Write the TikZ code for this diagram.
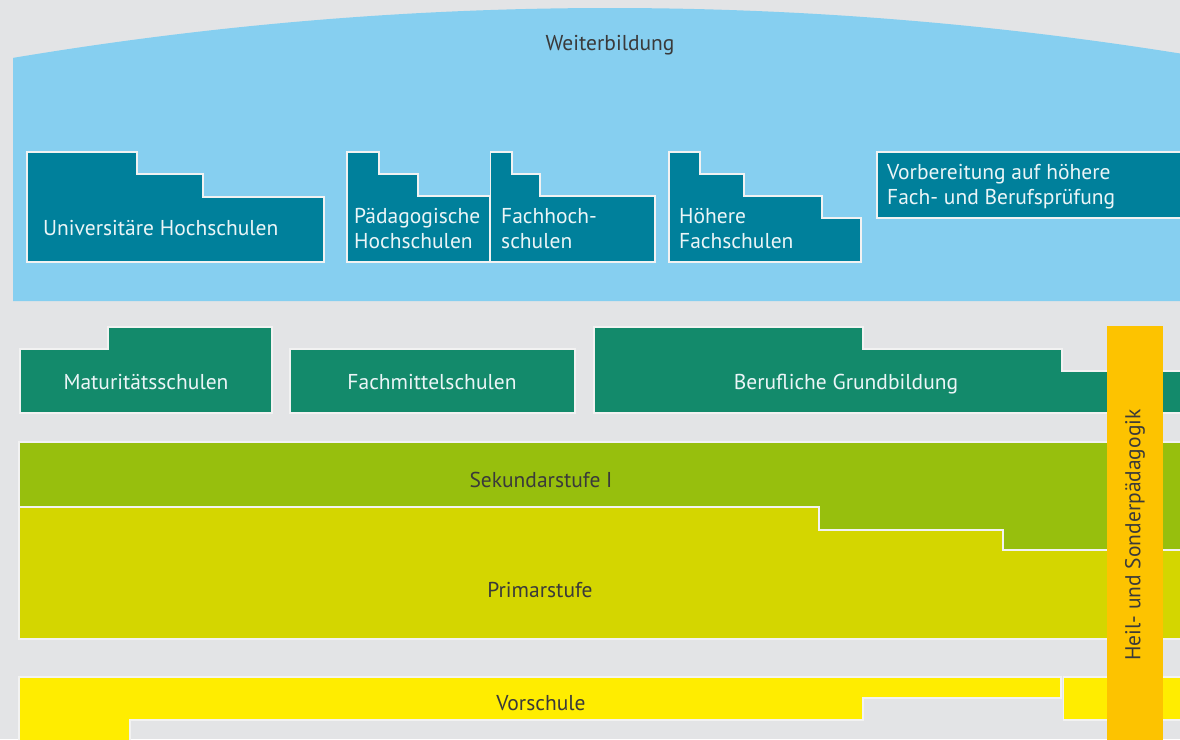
\documentclass[tikz,border=0pt]{standalone}
\usepackage{fontspec}
\setmainfont{PT Sans}
\definecolor{bgcol}{HTML}{E3E4E6}
\definecolor{wbcol}{HTML}{86CFF0}
\definecolor{tealcol}{HTML}{00809B}
\definecolor{greencol}{HTML}{138A6B}
\definecolor{sekcol}{HTML}{97BF0D}
\definecolor{primcol}{HTML}{D4D600}
\definecolor{vorcol}{HTML}{FFED00}
\definecolor{orcol}{HTML}{FDC300}
\definecolor{txtdark}{HTML}{3A3A3A}
\newcommand{\lblfont}{\fontsize{21.5}{25}\selectfont}
\begin{document}
\begin{tikzpicture}[x=1pt,y=-1pt,
  lbl/.style={font=\lblfont, text=white!92!tealcol, inner sep=0},
  dlbl/.style={font=\lblfont, text=txtdark, inner sep=0},
  box/.style={draw=white!90!gray, line width=1.1pt}]
\useasboundingbox (0,0) rectangle (1180,739);
\fill[bgcol] (0,0) rectangle (1180,739);
\clip (0,0) rectangle (1180,739);
% Weiterbildung
\fill[wbcol] (13,301) -- (13,58) -- plot[domain=13:1190,samples=90] (\x,{8+1.4*((\x-610)/100)^2}) -- (1190,301) -- cycle;
\node[dlbl, anchor=base] (wb) at (610,50) {Weiterbildung};
% tertiary
\draw[box, fill=tealcol] (27,262) -- (27,152) -- (137,152) -- (137,174) -- (203,174) -- (203,197) -- (324,197) -- (324,262) -- cycle;
\node[lbl, anchor=base west] (uni) at (43,235) {Universitäre Hochschulen};
\draw[box, fill=tealcol] (347,262) -- (347,152) -- (379,152) -- (379,174) -- (418,174) -- (418,196) -- (489.5,196) -- (489.5,262) -- cycle;
\node[lbl, anchor=base west] (ph1) at (354,223) {Pädagogische};
\node[lbl, anchor=base west] (ph2) at (354,248) {Hochschulen};
\draw[box, fill=tealcol] (490.5,262) -- (490.5,152) -- (512,152) -- (512,174) -- (540,174) -- (540,196) -- (655,196) -- (655,262) -- cycle;
\node[lbl, anchor=base west] (fh1) at (501,223) {Fachhoch-};
\node[lbl, anchor=base west] (fh2) at (501,248) {schulen};
\draw[box, fill=tealcol] (669,262) -- (669,152) -- (700,152) -- (700,174) -- (744,174) -- (744,196) -- (822,196) -- (822,218) -- (861,218) -- (861,262) -- cycle;
\node[lbl, anchor=base west] (hf1) at (679,223) {Höhere};
\node[lbl, anchor=base west] (hf2) at (679,248) {Fachschulen};
\draw[box, fill=tealcol] (877,152) rectangle (1195,218);
\node[lbl, anchor=base west] (vb1) at (887,179) {Vorbereitung auf höhere};
\node[lbl, anchor=base west] (vb2) at (887,204) {Fach- und Berufsprüfung};
% Sekundarstufe II
\draw[box, fill=greencol] (20,413) -- (20,349) -- (108,349) -- (108,327) -- (272,327) -- (272,413) -- cycle;
\node[lbl, anchor=base] (mat) at (146,389) {Maturitätsschulen};
\draw[box, fill=greencol] (290,349) rectangle (575,413);
\node[lbl, anchor=base] (fms) at (432,389) {Fachmittelschulen};
\draw[box, fill=greencol] (594,413) -- (594,327) -- (863,327) -- (863,349) -- (1062,349) -- (1062,371) -- (1195,371) -- (1195,413) -- cycle;
\node[lbl, anchor=base] (bg) at (846,389) {Berufliche Grundbildung};
% Sekundarstufe I and Primarstufe
\draw[box, fill=sekcol] (19,442) rectangle (1195,560);
\node[dlbl, anchor=base] (sek) at (541,487) {Sekundarstufe I};
\draw[box, fill=primcol] (19,507) -- (819,507) -- (819,530) -- (1003,530) -- (1003,550) -- (1195,550) -- (1195,639) -- (19,639) -- cycle;
\node[dlbl, anchor=base] (prim) at (540,597) {Primarstufe};
% Vorschule
\draw[box, fill=vorcol] (19,750) -- (19,677) -- (1061,677) -- (1061,698) -- (863,698) -- (863,720) -- (130,720) -- (130,750) -- cycle;
\draw[box, fill=vorcol] (1063.5,677) rectangle (1195,720);
\node[dlbl, anchor=base] (vor) at (541,710) {Vorschule};
% Heil- und Sonderpaedagogik
\fill[orcol] (1106.5,326) rectangle (1162.5,745);
\node[dlbl, rotate=90] (hsp) at (1135,535) {Heil- und Sonderpädagogik};
\end{tikzpicture}
\end{document}
